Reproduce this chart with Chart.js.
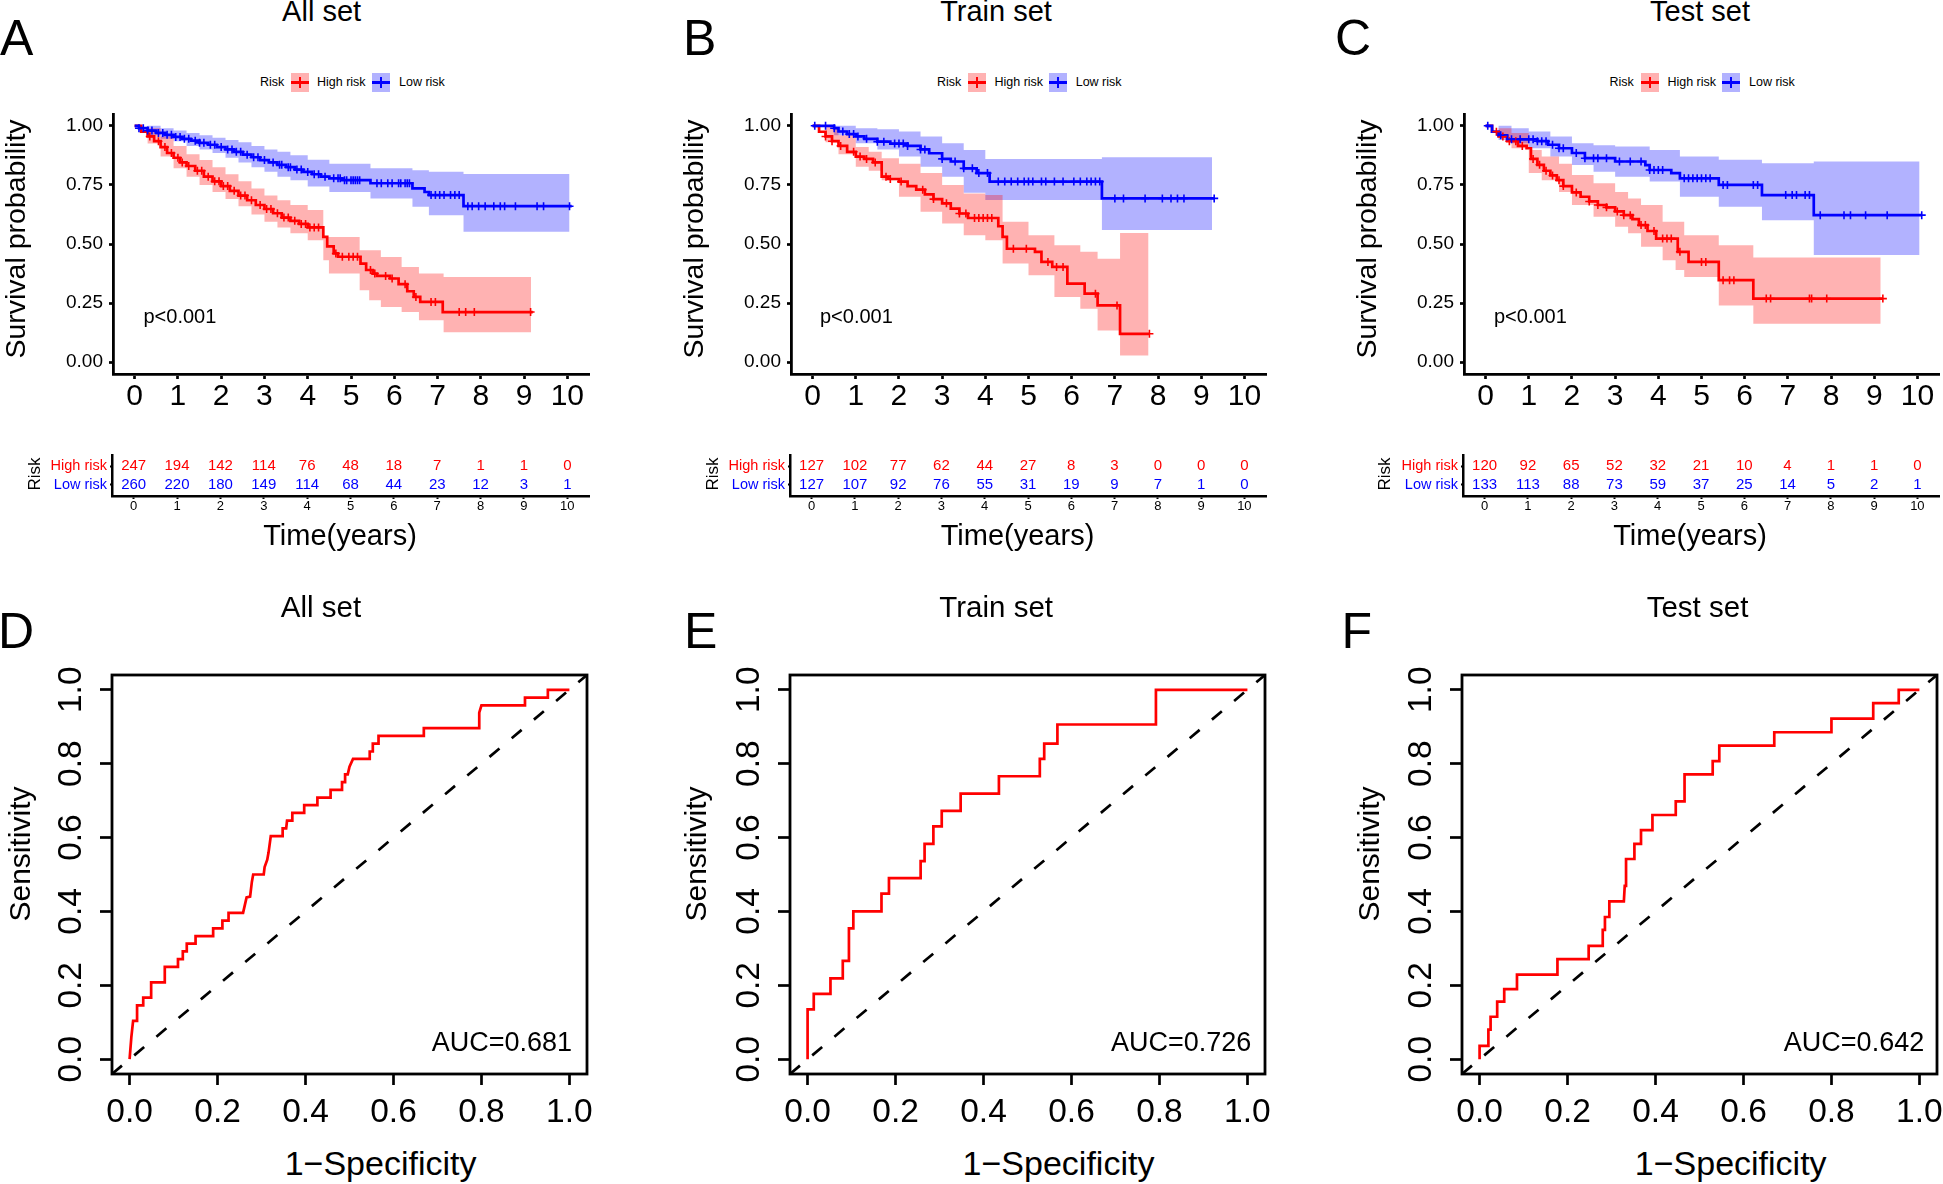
<!DOCTYPE html>
<html>
<head>
<meta charset="utf-8">
<script src="https://cdn.jsdelivr.net/npm/chart.js@4.4.0/dist/chart.umd.min.js"></script>
<style>
  body { margin: 0; background: #fff; }
  #fig { position: relative; width: 1943px; height: 1184px; overflow: hidden; background: #fff;
         font-family: "Liberation Sans", Arial, Helvetica, sans-serif; color: #000; }
  #fig canvas { position: absolute; }
  .t { position: absolute; white-space: nowrap; line-height: 1; }
  .key { position: absolute; width: 18px; height: 19px; }
  .key div { position: absolute; }
</style>
</head>
<body>
<div id="fig"></div>
<script>
// ---- data ----
const RED = '#FF0000', BLUE = '#0000FF';
const kmTicksX = [0, 1, 2, 3, 4, 5, 6, 7, 8, 9, 10];
const kmTicksY = [0, 0.25, 0.5, 0.75, 1];
const rocTicks = [0, 0.2, 0.4, 0.6, 0.8, 1];
const rocLimits = [-0.04, 1.04];
const riskTimes = [0, 1, 2, 3, 4, 5, 6, 7, 8, 9, 10];
const riskRows = ['Low risk', 'High risk'];
const setNames = ['All set', 'Train set', 'Test set'];
const pValues = ['p<0.001', 'p<0.001', 'p<0.001'];
const aucValues = [0.681, 0.726, 0.642];

const allHighAtRisk = [247, 194, 142, 114, 76, 48, 18, 7, 1, 1, 0];
const allLowAtRisk = [260, 220, 180, 149, 114, 68, 44, 23, 12, 3, 1];
const trainHighAtRisk = [127, 102, 77, 62, 44, 27, 8, 3, 0, 0, 0];
const trainLowAtRisk = [127, 107, 92, 76, 55, 31, 19, 9, 7, 1, 0];
const testHighAtRisk = [120, 92, 65, 52, 32, 21, 10, 4, 1, 1, 0];
const testLowAtRisk = [133, 113, 88, 73, 59, 37, 25, 14, 5, 2, 1];

// All set
const allHighTime = [0,0.15,0.3,0.45,0.6,0.75,0.9,1.05,1.2,1.4,1.6,1.8,2.0,2.2,2.4,2.6,2.8,3.0,3.2,3.4,3.6,3.8,4.0,4.36,4.45,4.6,4.7,5.22,5.35,5.5,5.6,5.9,6.1,6.3,6.45,6.6,7.12,9.2];
const allHighSurv = [1,0.975,0.955,0.935,0.91,0.885,0.865,0.845,0.83,0.81,0.785,0.765,0.745,0.725,0.705,0.685,0.665,0.648,0.63,0.612,0.598,0.585,0.57,0.53,0.49,0.46,0.446,0.417,0.39,0.375,0.365,0.354,0.33,0.30,0.276,0.255,0.212,0.212];
const allHighBandTime = [0,0.3,0.6,0.9,1.2,1.5,1.8,2.1,2.4,2.7,3.0,3.3,3.6,4.0,4.36,4.49,5.2,5.42,5.69,6.17,6.57,7.14,9.16];
const allHighUpper = [1,0.99,0.955,0.915,0.88,0.855,0.825,0.795,0.765,0.735,0.705,0.685,0.665,0.644,0.53,0.53,0.474,0.474,0.445,0.403,0.375,0.36,0.36];
const allHighLower = [1,0.925,0.87,0.82,0.785,0.75,0.72,0.69,0.66,0.625,0.594,0.57,0.545,0.516,0.431,0.375,0.304,0.262,0.233,0.212,0.177,0.127,0.127];
const allHighCensor = [0.35,0.55,0.7,0.85,1.0,1.1,1.25,1.45,1.55,1.7,1.85,1.95,2.05,2.15,2.3,2.45,2.55,2.7,2.9,3.05,3.15,3.3,3.45,3.55,3.7,3.85,3.95,4.05,4.15,4.25,4.65,4.8,4.95,5.05,5.15,5.45,5.55,5.8,5.95,6.25,6.5,6.85,6.95,7.5,7.65,7.85,9.15];
const allLowTime = [0,0.1,0.3,0.5,0.7,0.9,1.1,1.3,1.5,1.7,1.9,2.1,2.3,2.5,2.7,2.9,3.1,3.3,3.5,3.7,3.9,4.1,4.3,4.5,4.8,5.45,6.42,6.7,6.8,7.6,10.1];
const allLowSurv = [1,0.99,0.98,0.97,0.962,0.953,0.945,0.937,0.928,0.92,0.91,0.9,0.89,0.878,0.867,0.855,0.845,0.835,0.825,0.815,0.805,0.795,0.785,0.778,0.77,0.757,0.735,0.72,0.707,0.66,0.66];
const allLowBandTime = [0,0.3,0.6,0.9,1.2,1.5,1.8,2.1,2.4,2.7,3.0,3.3,3.6,4.0,4.5,5.45,6.42,6.8,7.6,10.05];
const allLowUpper = [1,1,0.99,0.98,0.97,0.96,0.95,0.94,0.93,0.915,0.9,0.89,0.875,0.856,0.84,0.82,0.812,0.806,0.796,0.796];
const allLowLower = [1,0.96,0.945,0.935,0.915,0.9,0.885,0.865,0.845,0.825,0.806,0.785,0.77,0.743,0.72,0.693,0.658,0.622,0.552,0.552];
const allLowCensor = [0.1,0.2,0.3,0.4,0.55,0.65,0.75,0.85,0.95,1.05,1.15,1.25,1.4,1.5,1.6,1.75,1.85,2.0,2.15,2.25,2.35,2.45,2.6,2.75,2.85,3.0,3.2,3.35,3.4,3.55,3.6,3.75,3.85,4.0,4.15,4.25,4.4,4.6,4.7,4.75,4.85,4.9,5.0,5.05,5.1,5.15,5.2,5.6,5.7,5.85,5.95,6.1,6.15,6.25,6.3,6.35,6.85,6.95,7.05,7.15,7.3,7.4,7.5,7.7,7.8,7.95,8.1,8.3,8.45,8.55,8.8,9.3,9.45,10.05];

// Train set
const trainHighTime = [0,0.15,0.3,0.45,0.6,0.8,1.0,1.2,1.4,1.6,1.75,2.0,2.2,2.4,2.6,2.8,3.0,3.2,3.4,3.6,4.3,4.4,4.5,5.15,5.3,5.55,5.9,6.3,6.6,7.12,7.8];
const trainHighSurv = [1,0.975,0.955,0.935,0.915,0.89,0.87,0.86,0.845,0.785,0.775,0.764,0.745,0.73,0.71,0.69,0.672,0.65,0.629,0.61,0.575,0.53,0.48,0.467,0.424,0.403,0.332,0.29,0.24,0.12,0.12];
const trainHighBandTime = [0,0.3,0.6,1.0,1.3,1.6,2.0,2.5,3.0,3.5,4.0,4.4,5.0,5.6,6.2,6.6,7.12,7.78];
const trainHighUpper = [1,0.995,0.96,0.91,0.89,0.863,0.84,0.8,0.75,0.714,0.707,0.594,0.537,0.495,0.467,0.438,0.547,0.547];
const trainHighLower = [1,0.93,0.88,0.827,0.81,0.77,0.7,0.636,0.587,0.537,0.516,0.417,0.368,0.276,0.226,0.134,0.028,0.028];
const trainHighCensor = [0.3,0.45,0.65,0.95,1.1,1.25,1.45,1.7,1.8,2.05,2.55,2.8,3.1,3.4,3.55,3.75,3.85,3.95,4.05,4.15,4.65,4.95,5.45,5.65,5.8,6.55,7.05,7.8];
const trainLowTime = [0,0.5,0.6,0.8,1.0,1.2,1.5,1.8,2.2,2.5,2.7,3.0,3.2,3.5,3.8,4.1,6.7,9.3];
const trainLowSurv = [1,0.99,0.976,0.965,0.955,0.945,0.933,0.925,0.915,0.9,0.884,0.86,0.849,0.82,0.8,0.764,0.693,0.693];
const trainLowBandTime = [0,0.5,1.0,1.5,2.0,2.5,3.0,3.5,4.0,6.7,9.25];
const trainLowUpper = [1,1,0.99,0.985,0.976,0.955,0.926,0.898,0.86,0.867,0.867];
const trainLowLower = [1,0.96,0.926,0.9,0.87,0.827,0.785,0.717,0.686,0.559,0.559];
const trainLowCensor = [0.05,0.3,0.5,0.7,0.85,0.95,1.05,1.25,1.5,1.65,1.9,2.0,2.1,2.2,2.5,2.6,3.0,3.3,3.5,3.7,3.85,4.05,4.3,4.45,4.6,4.75,4.9,5.0,5.1,5.3,5.4,5.6,5.8,6.05,6.2,6.35,6.45,6.55,6.65,7.0,7.2,7.7,8.1,8.3,8.45,8.6,9.3];

// Test set
const testHighTime = [0,0.15,0.3,0.5,0.75,0.95,1.05,1.2,1.35,1.5,1.65,1.8,2.0,2.2,2.4,2.6,2.8,3.0,3.2,3.4,3.55,3.75,3.95,4.45,4.7,5.4,6.2,9.2];
const testHighSurv = [1,0.975,0.955,0.935,0.915,0.905,0.86,0.835,0.81,0.79,0.77,0.745,0.718,0.7,0.68,0.665,0.655,0.638,0.622,0.605,0.58,0.555,0.523,0.467,0.424,0.347,0.269,0.269];
const testHighBandTime = [0,0.3,0.6,1.0,1.3,1.7,2.0,2.5,3.0,3.3,3.6,4.1,4.4,4.6,5.4,6.2,9.15];
const testHighUpper = [1,0.99,0.97,0.898,0.87,0.84,0.792,0.757,0.72,0.693,0.665,0.594,0.594,0.537,0.495,0.443,0.443];
const testHighLower = [1,0.95,0.905,0.8,0.77,0.72,0.665,0.615,0.573,0.545,0.488,0.431,0.39,0.36,0.24,0.163,0.163];
const testHighCensor = [0.25,0.4,0.55,0.7,0.85,1.1,1.25,1.4,1.55,1.7,1.8,2.1,2.4,2.6,2.8,3.05,3.2,3.35,3.6,3.7,3.9,4.1,4.2,4.3,4.5,5.0,5.1,5.5,5.65,5.75,6.5,6.6,7.5,7.55,7.9,9.2];
const testLowTime = [0,0.15,0.3,0.5,1.2,1.45,1.7,2.0,2.3,3.0,3.7,3.8,4.3,4.5,5.4,6.4,7.6,10.1];
const testLowSurv = [1,0.975,0.96,0.943,0.935,0.92,0.905,0.885,0.863,0.849,0.834,0.813,0.8,0.778,0.75,0.707,0.622,0.622];
const testLowBandTime = [0,0.3,0.6,1.0,1.5,2.0,2.5,3.0,3.8,4.5,5.4,6.4,7.6,10.05];
const testLowUpper = [1,1,0.99,0.976,0.955,0.926,0.918,0.912,0.898,0.87,0.856,0.842,0.849,0.849];
const testLowLower = [1,0.94,0.926,0.905,0.87,0.834,0.806,0.785,0.764,0.7,0.658,0.601,0.453,0.453];
const testLowCensor = [0.05,0.35,0.6,0.8,1.0,1.1,1.2,1.3,1.4,1.55,1.7,1.8,2.1,2.3,2.5,2.6,2.8,3.1,3.35,3.6,3.8,3.9,4.0,4.1,4.6,4.7,4.8,4.9,5.0,5.1,5.2,5.5,5.6,6.2,6.3,6.95,7.1,7.2,7.4,7.5,7.75,8.3,8.45,8.8,9.3,10.1];

// ROC curves
const allFpr = [0,0.004,0.008,0.017,0.017,0.031,0.031,0.049,0.049,0.08,0.08,0.11,0.11,0.121,0.121,0.13,0.13,0.15,0.15,0.19,0.19,0.211,0.211,0.225,0.225,0.258,0.262,0.266,0.274,0.278,0.281,0.305,0.307,0.313,0.316,0.321,0.348,0.348,0.356,0.358,0.37,0.37,0.397,0.397,0.427,0.427,0.457,0.457,0.483,0.483,0.49,0.49,0.496,0.5,0.508,0.546,0.546,0.553,0.553,0.566,0.566,0.669,0.669,0.795,0.795,0.8,0.899,0.899,0.951,0.951,1];
const allTpr = [0,0.06,0.104,0.104,0.146,0.146,0.167,0.167,0.208,0.208,0.25,0.25,0.271,0.271,0.292,0.292,0.313,0.313,0.333,0.333,0.354,0.354,0.375,0.375,0.396,0.396,0.417,0.438,0.44,0.48,0.5,0.5,0.52,0.54,0.56,0.604,0.604,0.625,0.625,0.646,0.646,0.667,0.667,0.688,0.688,0.708,0.708,0.729,0.729,0.75,0.75,0.771,0.771,0.792,0.813,0.813,0.833,0.833,0.854,0.854,0.875,0.875,0.896,0.896,0.938,0.958,0.958,0.979,0.979,1,1];
const trainFpr = [0,0,0.014,0.014,0.052,0.052,0.08,0.08,0.094,0.094,0.104,0.104,0.168,0.168,0.185,0.185,0.257,0.257,0.266,0.266,0.286,0.286,0.305,0.305,0.348,0.348,0.435,0.435,0.528,0.528,0.538,0.538,0.568,0.568,0.792,0.792,1];
const trainTpr = [0,0.135,0.135,0.177,0.177,0.219,0.219,0.266,0.266,0.354,0.354,0.4,0.4,0.448,0.448,0.49,0.49,0.536,0.536,0.583,0.583,0.63,0.63,0.672,0.672,0.719,0.719,0.766,0.766,0.813,0.813,0.854,0.854,0.906,0.906,1,1];
const testFpr = [0,0,0.02,0.02,0.025,0.025,0.04,0.04,0.056,0.056,0.085,0.085,0.177,0.177,0.248,0.248,0.28,0.28,0.285,0.285,0.295,0.295,0.328,0.33,0.333,0.333,0.352,0.352,0.367,0.367,0.393,0.393,0.446,0.446,0.466,0.466,0.53,0.53,0.545,0.545,0.67,0.67,0.8,0.8,0.895,0.895,0.953,0.953,1];
const testTpr = [0,0.036,0.036,0.08,0.08,0.115,0.115,0.156,0.156,0.19,0.19,0.229,0.229,0.271,0.271,0.307,0.307,0.35,0.35,0.385,0.385,0.427,0.427,0.469,0.469,0.542,0.542,0.583,0.583,0.62,0.62,0.661,0.661,0.698,0.698,0.771,0.771,0.807,0.807,0.849,0.849,0.885,0.885,0.922,0.922,0.964,0.964,1,1];

// ---- helpers ----
const fig = document.getElementById('fig');
const FONT = '"Liberation Sans", Arial, Helvetica, sans-serif';
Chart.defaults.font.family = FONT;
Chart.defaults.color = '#000';

function pts(xs, ys) { return xs.map((x, i) => ({ x: x, y: ys[i] })); }

function stepAt(times, vals, t) {
  let v = vals[0];
  for (let i = 0; i < times.length; i++) { if (times[i] <= t) v = vals[i]; }
  return v;
}

function addCanvas(area, m) {
  const c = document.createElement('canvas');
  c.width = area.r - area.l + m[0] + m[2];
  c.height = area.b - area.t + m[1] + m[3];
  c.style.left = (area.l - m[0]) + 'px';
  c.style.top = (area.t - m[1]) + 'px';
  fig.appendChild(c);
  return c;
}

function axis(o) {
  return {
    type: 'linear', min: o.min, max: o.max,
    afterBuildTicks: s => { s.ticks = o.ticks.map(v => ({ value: v })); },
    afterFit: s => {
      if (o.horizontal) s.height = o.size; else s.width = o.size;
      s.paddingLeft = 0; s.paddingRight = 0; s.paddingTop = 0; s.paddingBottom = 0;
    },
    ticks: { autoSkip: false, maxRotation: 0, minRotation: 0, padding: o.pad,
             font: { size: o.fs }, color: o.color || '#000', callback: o.fmt },
    grid: { display: true, drawOnChartArea: false, drawTicks: true,
            tickLength: o.tl, tickWidth: o.tw, tickColor: '#000' },
    border: o.border ? { display: true, width: o.border, color: '#000' } : { display: false }
  };
}

function makeChart(area, m, datasets, scales, plugins) {
  return new Chart(addCanvas(area, m), {
    type: 'line',
    data: { datasets: datasets },
    options: {
      responsive: false, animation: false, devicePixelRatio: 1, events: [],
      layout: { padding: { left: 0, top: m[1], right: m[2], bottom: 0 } },
      scales: scales,
      plugins: { legend: { display: false }, tooltip: { enabled: false } }
    },
    plugins: plugins || []
  });
}

// numbers at risk, placed on the points of each row
const riskNumbers = {
  id: 'riskNumbers',
  afterDatasetsDraw(chart) {
    const ctx = chart.ctx;
    ctx.save();
    ctx.font = '15px ' + FONT;
    ctx.textAlign = 'center';
    ctx.textBaseline = 'middle';
    chart.data.datasets.forEach((ds, di) => {
      ctx.fillStyle = ds.textColor;
      chart.getDatasetMeta(di).data.forEach((el, i) => ctx.fillText(String(ds.data[i].n), el.x, el.y));
    });
    ctx.restore();
  }
};

// box around ROC plot + rotated y tick labels like base R
const rocFrame = {
  id: 'rocFrame',
  afterDraw(chart) {
    const ctx = chart.ctx, a = chart.chartArea, y = chart.scales.y;
    ctx.save();
    ctx.strokeStyle = '#000';
    ctx.lineWidth = 2.8;
    ctx.strokeRect(a.left, a.top, a.right - a.left, a.bottom - a.top);
    ctx.fillStyle = '#000';
    ctx.font = '33.5px ' + FONT;
    ctx.textAlign = 'center';
    ctx.textBaseline = 'middle';
    y.ticks.forEach(t => {
      ctx.save();
      ctx.translate(a.left - 40, y.getPixelForValue(t.value));
      ctx.rotate(-Math.PI / 2);
      ctx.fillText(t.value.toFixed(1), 0, 0);
      ctx.restore();
    });
    ctx.restore();
  }
};

function kmPanel(area, curves) {
  const m = [100, 20, 30, 70];
  const ds = [];
  curves.forEach(c => {
    ds.push({ data: pts(c.bandTime, c.upper), stepped: 'before', borderColor: 'rgba(0,0,0,0)',
              borderWidth: 0, pointRadius: 0, fill: false, order: 5 });
    ds.push({ data: pts(c.bandTime, c.lower), stepped: 'before', borderColor: 'rgba(0,0,0,0)',
              borderWidth: 0, pointRadius: 0, fill: '-1', backgroundColor: c.fill, order: 5 });
  });
  curves.forEach((c, k) => ds.push({ data: pts(c.time, c.surv), stepped: 'before', borderColor: c.color,
              borderWidth: 2.7, pointRadius: 0, fill: false, order: 4 - k }));
  curves.forEach((c, k) => ds.push({ data: c.censor.map(t => ({ x: t, y: stepAt(c.time, c.surv, t) })),
              showLine: false, pointStyle: 'cross', pointRadius: 4, pointBorderColor: c.color,
              pointBorderWidth: 1.6, order: 2 - k }));
  makeChart(area, m, ds, {
    x: axis({ min: -0.5, max: 10.5, ticks: kmTicksX, size: m[3], horizontal: true, pad: 0, fs: 30,
              tl: 5, tw: 2.7, border: 2.8, fmt: v => String(v) }),
    y: axis({ min: -0.05, max: 1.05, ticks: kmTicksY, size: m[0], horizontal: false, pad: 6, fs: 19,
              tl: 4, tw: 2.7, border: 2.8, fmt: v => v.toFixed(2) })
  });
}

function riskPanel(area, high, low) {
  const m = [100, 10, 30, 30];
  const ds = [
    { data: riskTimes.map((t, i) => ({ x: t, y: 1, n: high[i] })), textColor: RED, showLine: false, pointRadius: 0 },
    { data: riskTimes.map((t, i) => ({ x: t, y: 0, n: low[i] })), textColor: BLUE, showLine: false, pointRadius: 0 }
  ];
  makeChart(area, m, ds, {
    x: axis({ min: -0.5, max: 10.5, ticks: riskTimes, size: m[3], horizontal: true, pad: 0, fs: 13,
              tl: 3, tw: 2, border: 2.5, fmt: v => String(v) }),
    y: axis({ min: -0.6, max: 1.6, ticks: [0, 1], size: m[0], horizontal: false, pad: 3, fs: 14.5,
              tl: 2, tw: 2, border: 2.5, fmt: v => riskRows[v],
              color: c => (c.tick && c.tick.value === 1 ? RED : BLUE) })
  }, [riskNumbers]);
}

function rocPanel(area, fpr, tpr) {
  const m = [100, 20, 30, 60];
  const ds = [
    { data: pts(fpr, tpr), borderColor: RED, borderWidth: 2.7, pointRadius: 0, fill: false, order: 1 },
    { data: pts(rocLimits, rocLimits), borderColor: '#000', borderWidth: 2.7, borderDash: [13, 16],
      pointRadius: 0, fill: false, order: 2 }
  ];
  makeChart(area, m, ds, {
    x: axis({ min: rocLimits[0], max: rocLimits[1], ticks: rocTicks, size: m[3], horizontal: true, pad: 8,
              fs: 33.5, tl: 11, tw: 2.7, border: 0, fmt: v => v.toFixed(1) }),
    y: axis({ min: rocLimits[0], max: rocLimits[1], ticks: rocTicks, size: m[0], horizontal: false, pad: 8,
              fs: 33.5, tl: 12, tw: 2.7, border: 0, fmt: v => v.toFixed(1), color: 'rgba(0,0,0,0)' })
  }, [rocFrame]);
}

function label(str, x, base, fs, align, color) {
  const d = document.createElement('div');
  d.className = 't';
  d.textContent = str;
  d.style.fontSize = fs + 'px';
  d.style.left = x + 'px';
  d.style.top = (base - 0.8465 * fs) + 'px';
  if (align === 'center') d.style.transform = 'translateX(-50%)';
  if (align === 'right') d.style.transform = 'translateX(-100%)';
  if (color) d.style.color = color;
  fig.appendChild(d);
}

function vlabel(str, cx, cy, fs) {
  const d = document.createElement('div');
  d.className = 't';
  d.textContent = str;
  d.style.fontSize = fs + 'px';
  d.style.left = (cx - 0.086 * fs) + 'px';
  d.style.top = cy + 'px';
  d.style.transform = 'translate(-50%,-50%) rotate(-90deg)';
  fig.appendChild(d);
}

function legendKey(x, color, fill) {
  const k = document.createElement('div');
  k.className = 'key';
  k.style.left = x + 'px';
  k.style.top = '73px';
  k.style.background = fill;
  const h = document.createElement('div');
  h.style.cssText = 'left:0;top:8px;width:18px;height:3px;background:' + color;
  const v = document.createElement('div');
  v.style.cssText = 'left:8px;top:4px;width:2px;height:11px;background:' + color;
  k.appendChild(h); k.appendChild(v);
  fig.appendChild(k);
}

// ---- layout ----
const kmAreas = [{ l: 113, t: 114, r: 589, b: 374 }, { l: 791, t: 114, r: 1266, b: 374 }, { l: 1464, t: 114, r: 1939, b: 374 }];
const riskAreas = [{ l: 112, t: 455, r: 589, b: 496 }, { l: 790, t: 455, r: 1266, b: 496 }, { l: 1463, t: 455, r: 1939, b: 496 }];
const rocAreas = [{ l: 112, t: 675, r: 587, b: 1074 }, { l: 789.5, t: 675, r: 1265, b: 1074 }, { l: 1462, t: 675, r: 1937, b: 1074 }];

const redFill = 'rgba(255,0,0,0.3)', blueFill = 'rgba(0,0,255,0.3)';
const kmSets = [
  [{ time: allHighTime, surv: allHighSurv, bandTime: allHighBandTime, upper: allHighUpper, lower: allHighLower, censor: allHighCensor, color: RED, fill: redFill },
   { time: allLowTime, surv: allLowSurv, bandTime: allLowBandTime, upper: allLowUpper, lower: allLowLower, censor: allLowCensor, color: BLUE, fill: blueFill }],
  [{ time: trainHighTime, surv: trainHighSurv, bandTime: trainHighBandTime, upper: trainHighUpper, lower: trainHighLower, censor: trainHighCensor, color: RED, fill: redFill },
   { time: trainLowTime, surv: trainLowSurv, bandTime: trainLowBandTime, upper: trainLowUpper, lower: trainLowLower, censor: trainLowCensor, color: BLUE, fill: blueFill }],
  [{ time: testHighTime, surv: testHighSurv, bandTime: testHighBandTime, upper: testHighUpper, lower: testHighLower, censor: testHighCensor, color: RED, fill: redFill },
   { time: testLowTime, surv: testLowSurv, bandTime: testLowBandTime, upper: testLowUpper, lower: testLowLower, censor: testLowCensor, color: BLUE, fill: blueFill }]
];
const riskSets = [[allHighAtRisk, allLowAtRisk], [trainHighAtRisk, trainLowAtRisk], [testHighAtRisk, testLowAtRisk]];
const rocSets = [[allFpr, allTpr], [trainFpr, trainTpr], [testFpr, testTpr]];

for (let i = 0; i < 3; i++) {
  kmPanel(kmAreas[i], kmSets[i]);
  riskPanel(riskAreas[i], riskSets[i][0], riskSets[i][1]);
  rocPanel(rocAreas[i], rocSets[i][0], rocSets[i][1]);
}

// ---- text ----
const kmTitleX = [321.6, 996, 1700];
const rocTitleX = [321, 996.2, 1697.5];
const letterX = [[0, 683, 1335], [-2, 684, 1341.6]];
const legendX = [[260, 291, 317, 372, 399], [937, 967.7, 994.5, 1048.9, 1075.7], [1609.5, 1640.8, 1667.4, 1722, 1749]];
const pX = [143.5, 820, 1494];
const survTitleX = [17, 695, 1368];
const riskTitleX = [35.5, 713, 1385.7];
const timeTitleX = [340, 1017.5, 1690];
const sensX = [22.7, 698.7, 1372];
const specX = [380.6, 1058.5, 1730.7];
const aucRight = [572, 1251.3, 1924.2];

['A', 'B', 'C'].forEach((s, i) => label(s, letterX[0][i], 55, 50));
['D', 'E', 'F'].forEach((s, i) => label(s, letterX[1][i], 648.6, 50));

for (let i = 0; i < 3; i++) {
  label(setNames[i], kmTitleX[i], 22, 29, 'center');
  const lx = legendX[i];
  label('Risk', lx[0], 87, 12.5);
  legendKey(lx[1], RED, redFill);
  label('High risk', lx[2], 87, 12.5);
  legendKey(lx[3], BLUE, blueFill);
  label('Low risk', lx[4], 87, 12.5);
  label(pValues[i], pX[i], 323, 20);
  vlabel('Survival probability', survTitleX[i], 239, 28.5);
  vlabel('Risk', riskTitleX[i], 473.5, 17);
  label('Time(years)', timeTitleX[i], 546, 29, 'center');

  label(setNames[i], rocTitleX[i], 617.4, 29.5, 'center');
  vlabel('Sensitivity', sensX[i], 853.5, 30);
  label('1\u2212Specificity', specX[i], 1175, 34, 'center');
  label('AUC=' + aucValues[i].toFixed(3), aucRight[i], 1052, 27, 'right');
}
</script>
</body>
</html>
